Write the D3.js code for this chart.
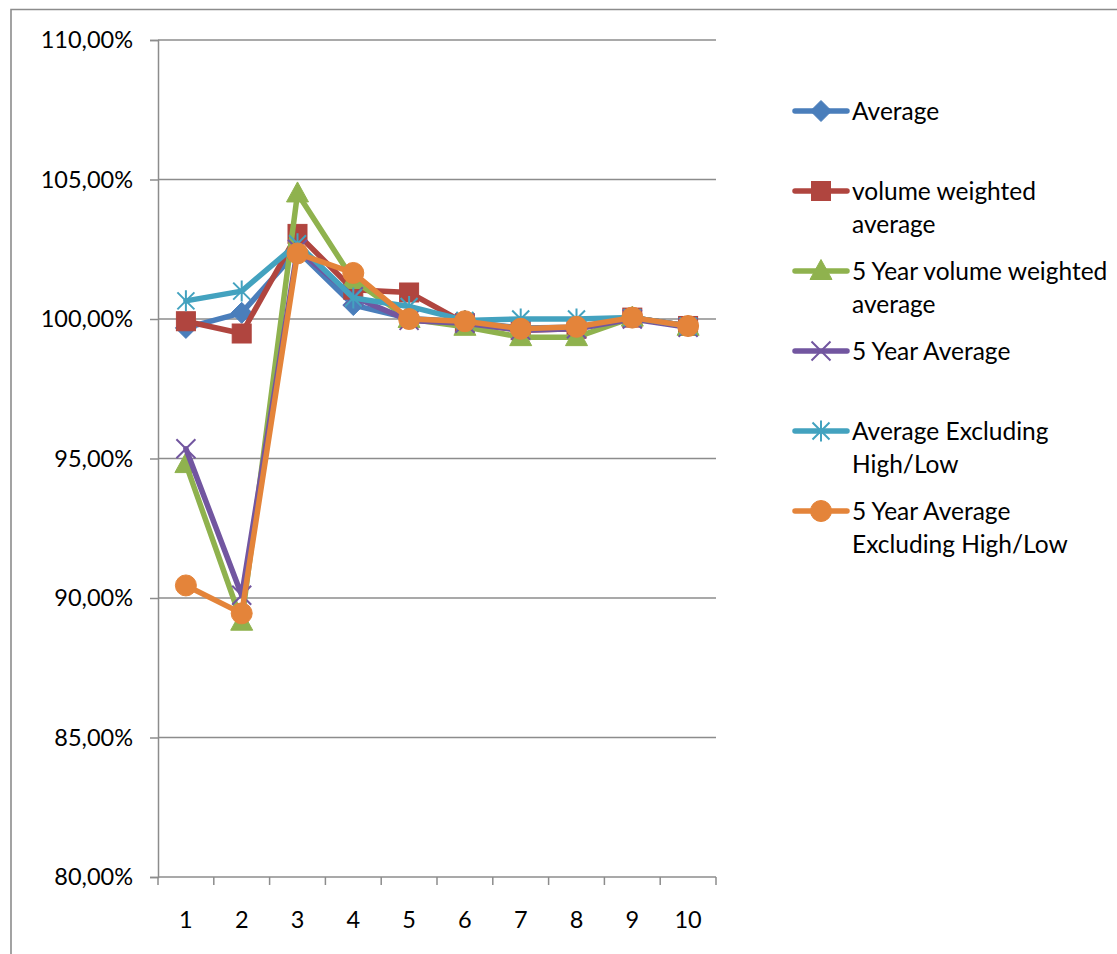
<!DOCTYPE html>
<html>
<head>
<meta charset="utf-8">
<script src="https://cdn.jsdelivr.net/npm/d3@7/dist/d3.min.js"></script>
<style>
  html, body { margin: 0; padding: 0; background: #fff; }
  svg { display: block; }
  text { font-family: Lato, "Open Sans", sans-serif; fill: #000; }
</style>
</head>
<body>
<svg id="chart" width="1117" height="954"></svg>
<script>
// ---------- data ----------
const categories = [1, 2, 3, 4, 5, 6, 7, 8, 9, 10];
const yTicks = [80, 85, 90, 95, 100, 105, 110];
const seriesNames = [
  "Average",
  "volume weighted average",
  "5 Year volume weighted average",
  "5 Year Average",
  "Average Excluding High/Low",
  "5 Year Average Excluding High/Low"
];
const legendLines = [
  ["Average"],
  ["volume weighted", "average"],
  ["5 Year volume weighted", "average"],
  ["5 Year Average"],
  ["Average Excluding", "High/Low"],
  ["5 Year Average", "Excluding High/Low"]
];
const average            = [99.68, 100.22, 102.45, 100.50, 100.02, 99.90, 99.68, 99.70, 100.05, 99.75];
const volWeighted        = [99.92, 99.48, 103.05, 101.05, 100.95, 99.85, 99.60, 99.65, 100.05, 99.75];
const fiveYrVolWeighted  = [94.80, 89.15, 104.50, 101.40, 100.00, 99.72, 99.35, 99.35, 100.05, 99.72];
const fiveYrAverage      = [95.35, 90.10, 102.50, 100.80, 99.95, 99.85, 99.60, 99.65, 100.00, 99.70];
const avgExclHighLow     = [100.65, 101.00, 102.70, 100.75, 100.45, 99.95, 100.00, 100.00, 100.05, 99.75];
const fiveYrAvgExclHL    = [90.45, 89.45, 102.35, 101.65, 100.00, 99.92, 99.65, 99.72, 100.05, 99.75];
const seriesValues = [average, volWeighted, fiveYrVolWeighted, fiveYrAverage, avgExclHighLow, fiveYrAvgExclHL];

// ---------- styles ----------
const colors = ["#4A7EBB", "#B0453F", "#8FB24E", "#7256A0", "#43A2BF", "#E4843A"];
const markerTypes = ["diamond", "square", "triangle", "x", "star", "circle"];

const svg = d3.select("#chart");
const plot = { left: 158, right: 716, top: 40, bottom: 877 };

const x = d3.scaleBand().domain(categories).range([plot.left, plot.right]).padding(0);
const y = d3.scaleLinear().domain([80, 110]).range([plot.bottom, plot.top]);
const loc = d3.formatLocale({ decimal: ",", thousands: ".", grouping: [3], currency: ["", ""] });
const fmt = v => loc.format(".2f")(v) + "%";

// outer chart frame
svg.append("path")
  .attr("d", `M11,954 L11,9.5 L1117,9.5`)
  .attr("fill", "none").attr("stroke", "#8c8c8c").attr("stroke-width", 1.6);

// gridlines
svg.append("g").selectAll("line").data(yTicks.filter(t => t > 80)).join("line")
  .attr("x1", plot.left).attr("x2", plot.right)
  .attr("y1", d => y(d)).attr("y2", d => y(d))
  .attr("stroke", "#8c8c8c").attr("stroke-width", 1.5);

// y axis
const yAxis = d3.axisLeft(y).tickValues(yTicks).tickFormat(fmt).tickSize(8).tickPadding(17);
const gy = svg.append("g").attr("transform", `translate(${plot.left},0)`).call(yAxis);
gy.select(".domain").attr("stroke", "#8c8c8c").attr("stroke-width", 1.5);
gy.selectAll(".tick line").attr("stroke", "#8c8c8c").attr("stroke-width", 1.5);
gy.selectAll(".tick text").attr("font-size", 23.5).attr("font-family", "Lato").attr("fill", "#000");

// x axis (ticks at category boundaries)
const gx = svg.append("g");
gx.append("line").attr("x1", plot.left).attr("x2", plot.right)
  .attr("y1", plot.bottom).attr("y2", plot.bottom)
  .attr("stroke", "#8c8c8c").attr("stroke-width", 1.5);
const boundaries = categories.map(c => x(c)).concat([x.range()[1]]);
gx.selectAll("line.tk").data(boundaries).join("line").attr("class", "tk")
  .attr("x1", d => d).attr("x2", d => d)
  .attr("y1", plot.bottom).attr("y2", plot.bottom + 8)
  .attr("stroke", "#8c8c8c").attr("stroke-width", 1.5);
gx.selectAll("text").data(categories).join("text")
  .attr("x", d => x(d) + x.bandwidth() / 2)
  .attr("y", 920).attr("dy", "0.35em")
  .attr("text-anchor", "middle").attr("font-size", 23.5)
  .text(d => d);

// markers
function drawMarker(g, type, color, cx, cy) {
  const s = 10.5;
  if (type === "diamond") {
    g.append("path").attr("d", `M${cx},${cy - s} L${cx + s},${cy} L${cx},${cy + s} L${cx - s},${cy} Z`)
      .attr("fill", color).attr("stroke", color).attr("stroke-width", 1);
  } else if (type === "square") {
    g.append("rect").attr("x", cx - 9.5).attr("y", cy - 9.5).attr("width", 19).attr("height", 19)
      .attr("fill", color).attr("stroke", color).attr("stroke-width", 1);
  } else if (type === "triangle") {
    g.append("path").attr("d", `M${cx},${cy - 11.5} L${cx + 11},${cy + 8.5} L${cx - 11},${cy + 8.5} Z`)
      .attr("fill", color).attr("stroke", color).attr("stroke-width", 1);
  } else if (type === "circle") {
    g.append("circle").attr("cx", cx).attr("cy", cy).attr("r", 10.5)
      .attr("fill", color).attr("stroke", color).attr("stroke-width", 1);
  } else if (type === "x") {
    g.append("path").attr("d", `M${cx - 9.5},${cy - 9.5} L${cx + 9.5},${cy + 9.5} M${cx - 9.5},${cy + 9.5} L${cx + 9.5},${cy - 9.5}`)
      .attr("stroke", color).attr("stroke-width", 2).attr("fill", "none");
  } else if (type === "star") {
    g.append("path").attr("d", `M${cx - 8.5},${cy - 8.5} L${cx + 8.5},${cy + 8.5} M${cx - 8.5},${cy + 8.5} L${cx + 8.5},${cy - 8.5} M${cx},${cy - 10.5} L${cx},${cy + 10.5}`)
      .attr("stroke", color).attr("stroke-width", 2).attr("fill", "none");
  }
}

// series
const line = d3.line().x((d, i) => x(categories[i]) + x.bandwidth() / 2).y(d => y(d));
seriesValues.forEach((vals, si) => {
  const g = svg.append("g");
  g.append("path").datum(vals).attr("d", line)
    .attr("fill", "none").attr("stroke", colors[si]).attr("stroke-width", 5.5)
    .attr("stroke-linejoin", "round").attr("stroke-linecap", "round");
  vals.forEach((v, i) => drawMarker(g, markerTypes[si], colors[si], x(categories[i]) + x.bandwidth() / 2, y(v)));
});

// legend
const legend = svg.append("g");
legendLines.forEach((lines, i) => {
  const ly = 111 + i * 80;
  const g = legend.append("g");
  g.append("line").attr("x1", 795).attr("x2", 847).attr("y1", ly).attr("y2", ly)
    .attr("stroke", colors[i]).attr("stroke-width", 5.5).attr("stroke-linecap", "round");
  drawMarker(g, markerTypes[i], colors[i], 821, ly);
  lines.forEach((t, j) => {
    g.append("text").attr("x", 852).attr("y", ly + j * 33).attr("dy", "0.35em")
      .attr("font-size", 24.5).text(t);
  });
});
</script>
</body>
</html>
